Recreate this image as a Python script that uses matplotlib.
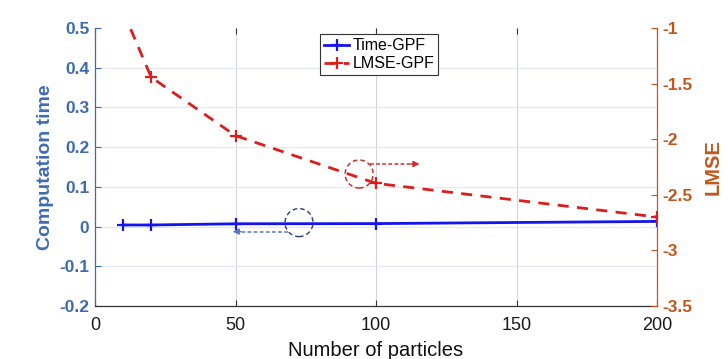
import matplotlib
matplotlib.use("Agg")
import matplotlib.pyplot as plt
from matplotlib.patches import Ellipse

plt.rcParams['font.family'] = ['Liberation Sans', 'DejaVu Sans']

particles = [10, 20, 50, 100, 200]
time_gpf = [0.004, 0.004, 0.007, 0.0075, 0.013]
lmse_gpf = [-0.85, -1.443, -1.968, -2.397, -2.70]

left_ticks = [-0.2, -0.1, 0, 0.1, 0.2, 0.3, 0.4, 0.5]
left_labels = ['-0.2', '-0.1', '0', '0.1', '0.2', '0.3', '0.4', '0.5']
right_ticks = [-3.5, -3, -2.5, -2, -1.5, -1]
right_labels = ['-3.5', '-3', '-2.5', '-2', '-1.5', '-1']
x_ticks = [0, 50, 100, 150, 200]

BLUE_AX = '#3d6bb3'
ORANGE_AX = '#c4561c'
LINE_BLUE = '#1414ee'
LINE_RED = '#dd1c1c'

fig = plt.figure(figsize=(7.28, 3.59), dpi=100)
ax = fig.add_axes([95/728, 53/359, 562/728, 278/359])
ax2 = ax.twinx()

ax.set_xlim(0, 200)
ax.set_ylim(-0.2, 0.5)
ax2.set_ylim(-3.5, -1)

# grids
for t in x_ticks[1:-1]:
    ax.axvline(t, color='#d3d6da', lw=0.8, zorder=0)
for t in left_ticks[1:-1]:
    ax.axhline(t, color='#e1e8f1', lw=0.8, zorder=0)

l1, = ax.plot(particles, time_gpf, color=LINE_BLUE, lw=2, marker='+',
              markersize=9, markeredgewidth=1.6, label='Time-GPF', zorder=3)
l2, = ax2.plot(particles, lmse_gpf, color=LINE_RED, lw=2, ls=(0, (4, 3)),
               marker='+', markersize=9, markeredgewidth=1.6,
               label='LMSE-GPF', zorder=3)

# annotations: circles and arrows
circ_r = Ellipse((94.0, -2.313), 9.96, 0.252, fill=False, ec='#d42a2a',
                 lw=1.1, ls=(0, (3, 2)), zorder=4)
ax2.add_patch(circ_r)
ax2.plot([97.9, 113.0], [-2.223, -2.223], color='#d42a2a', lw=1.1,
         ls=(0, (2.5, 1.5)), zorder=4)
ax2.annotate('', xy=(115.5, -2.223), xytext=(112.5, -2.223),
             arrowprops=dict(arrowstyle='-|>', color='#d42a2a', lw=1,
                             mutation_scale=9, shrinkA=0, shrinkB=0), zorder=4)

circ_b = Ellipse((72.6, 0.010), 9.96, 0.0705, fill=False, ec='#3c4a78',
                 lw=1.1, ls=(0, (3, 2)), zorder=4)
ax.add_patch(circ_b)
ax.plot([68.7, 51.5], [-0.0126, -0.0126], color='#5a78bf', lw=1.1,
        ls=(0, (2.5, 1.5)), zorder=4)
ax.annotate('', xy=(49.0, -0.0126), xytext=(52.0, -0.0126),
            arrowprops=dict(arrowstyle='-|>', color='#5a78bf', lw=1,
                            mutation_scale=9, shrinkA=0, shrinkB=0), zorder=4)

# ticks
ax.set_xticks(x_ticks)
ax.set_xticklabels([str(t) for t in x_ticks], fontsize=13, color='#1a1a1a')
ax.set_yticks(left_ticks)
ax.set_yticklabels(left_labels, fontsize=12.5, color=BLUE_AX, fontweight='bold')
ax2.set_yticks(right_ticks)
ax2.set_yticklabels(right_labels, fontsize=12.5, color=ORANGE_AX, fontweight='bold')

ax.tick_params(axis='x', direction='in', length=4, width=0.8, color='#333333',
               top=True, pad=8)
ax.tick_params(axis='y', direction='in', length=4, width=0.8, color=BLUE_AX, pad=4)
ax2.tick_params(axis='y', direction='in', length=4, width=0.8, color=ORANGE_AX, pad=4)

for a in (ax, ax2):
    a.spines['top'].set_visible(False)
ax.spines['left'].set_color(BLUE_AX)
ax.spines['right'].set_visible(False)
ax.spines['bottom'].set_color('#333333')
ax2.spines['right'].set_color(ORANGE_AX)
ax2.spines['left'].set_visible(False)
ax2.spines['bottom'].set_visible(False)
for s in ('left', 'bottom'):
    ax.spines[s].set_linewidth(0.9)
ax2.spines['right'].set_linewidth(0.9)

ax.set_xlabel('Number of particles', fontsize=14.5, color='#111111', labelpad=5)
ax.set_ylabel('Computation time', fontsize=14, color=BLUE_AX,
              fontweight='bold', labelpad=4)
ax2.set_ylabel('LMSE', fontsize=14.5, color=ORANGE_AX, fontweight='bold',
               labelpad=8)

leg = ax2.legend(handles=[l1, l2], loc='upper left', bbox_to_anchor=(0.400, 0.978),
                 fontsize=11.5, frameon=True, fancybox=False, borderpad=0.25,
                 handlelength=1.6, handletextpad=0.2, labelspacing=0.2,
                 borderaxespad=0, framealpha=1)
leg.get_frame().set_edgecolor('#333333')
leg.get_frame().set_linewidth(0.8)

fig.savefig('out.png', dpi=100)
